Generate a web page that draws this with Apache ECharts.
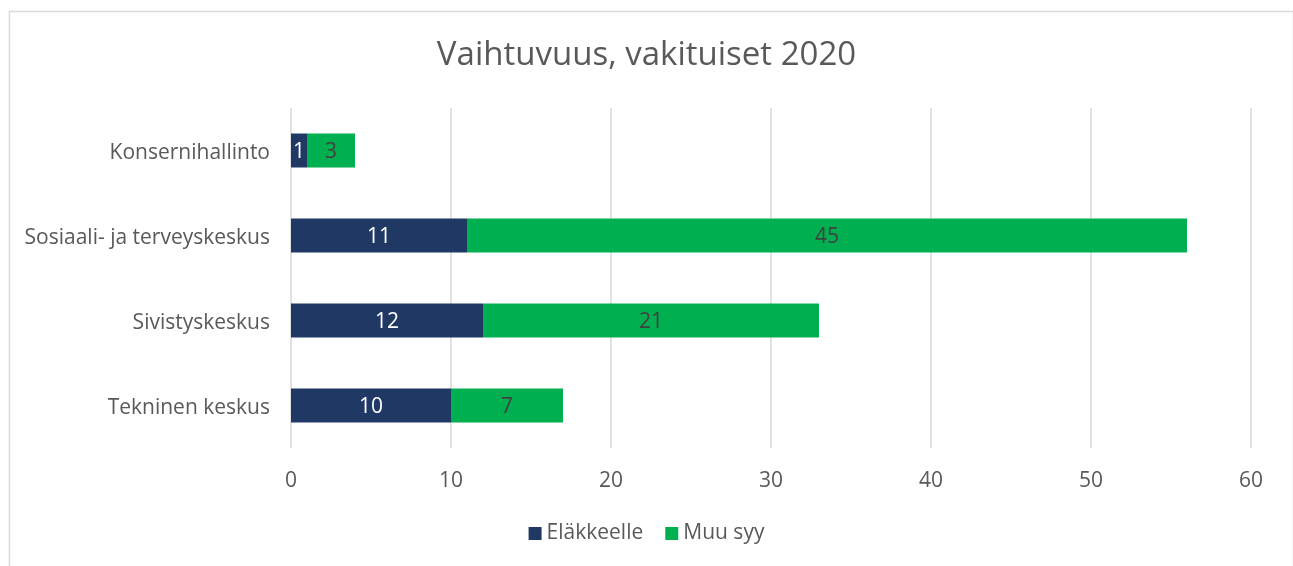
<!DOCTYPE html>
<html>
<head>
<meta charset="utf-8">
<script src="https://cdn.jsdelivr.net/npm/echarts@6/dist/echarts.min.js"></script>
<style>
  html, body { margin: 0; padding: 0; background: #fff; }
  #chart { width: 1293px; height: 566px; }
</style>
</head>
<body>
<div id="chart"></div>
<script>
var categories = ['Konsernihallinto', 'Sosiaali- ja terveyskeskus', 'Sivistyskeskus', 'Tekninen keskus'];
var elakkeelle = [1, 11, 12, 10];
var muuSyy = [3, 45, 21, 7];
var xTicks = [0, 10, 20, 30, 40, 50, 60];

var fontName = '"Open Sans", Lato, sans-serif';

var chart = echarts.init(document.getElementById('chart'));
chart.setOption({
    animation: false,
    textStyle: { fontFamily: fontName },
    graphic: [{
        type: 'rect',
        left: 7, top: 9,
        shape: { width: 1284, height: 570 },
        style: { fill: 'none', stroke: '#d9d9d9', lineWidth: 1.5 },
        silent: true
    }],
    title: {
        text: 'Vaihtuvuus, vakituiset 2020',
        left: 'center',
        top: 34,
        textStyle: { fontFamily: fontName, fontSize: 33, fontWeight: 'normal', color: '#595959' }
    },
    legend: {
        bottom: 17,
        left: 'center',
        itemWidth: 13,
        itemHeight: 13,
        itemGap: 22,
        icon: 'rect',
        textStyle: { fontFamily: fontName, fontSize: 21, color: '#595959' },
        data: ['Eläkkeelle', 'Muu syy']
    },
    grid: { left: 291, right: 42, top: 108, bottom: 118 },
    xAxis: {
        type: 'value',
        min: xTicks[0],
        max: xTicks[xTicks.length - 1],
        interval: 10,
        axisLine: { show: false },
        axisTick: { show: false },
        splitLine: { lineStyle: { color: '#d9d9d9', width: 1.5 } },
        axisLabel: { fontFamily: fontName, fontSize: 21, color: '#595959', margin: 23 }
    },
    yAxis: {
        type: 'category',
        inverse: true,
        data: categories,
        axisLine: { show: false },
        axisTick: { show: false },
        axisLabel: {
            fontFamily: fontName, fontSize: 21, color: '#595959', margin: 21,
            formatter: function (v) { return '{a|' + v + '}'; },
            rich: { a: { fontFamily: fontName, fontSize: 21, color: '#595959', padding: [6, 0, 0, 0] } }
        }
    },
    series: [
        {
            name: 'Eläkkeelle',
            type: 'bar',
            stack: 'a',
            barWidth: '40%',
            itemStyle: { color: '#203864' },
            label: { show: true, position: 'inside', offset: [0, 2], color: '#ffffff', fontSize: 21, fontFamily: fontName },
            data: elakkeelle
        },
        {
            name: 'Muu syy',
            type: 'bar',
            stack: 'a',
            itemStyle: { color: '#00b050' },
            label: { show: true, position: 'inside', offset: [0, 2], color: '#404040', fontSize: 21, fontFamily: fontName },
            data: muuSyy
        }
    ]
});
</script>
</body>
</html>
